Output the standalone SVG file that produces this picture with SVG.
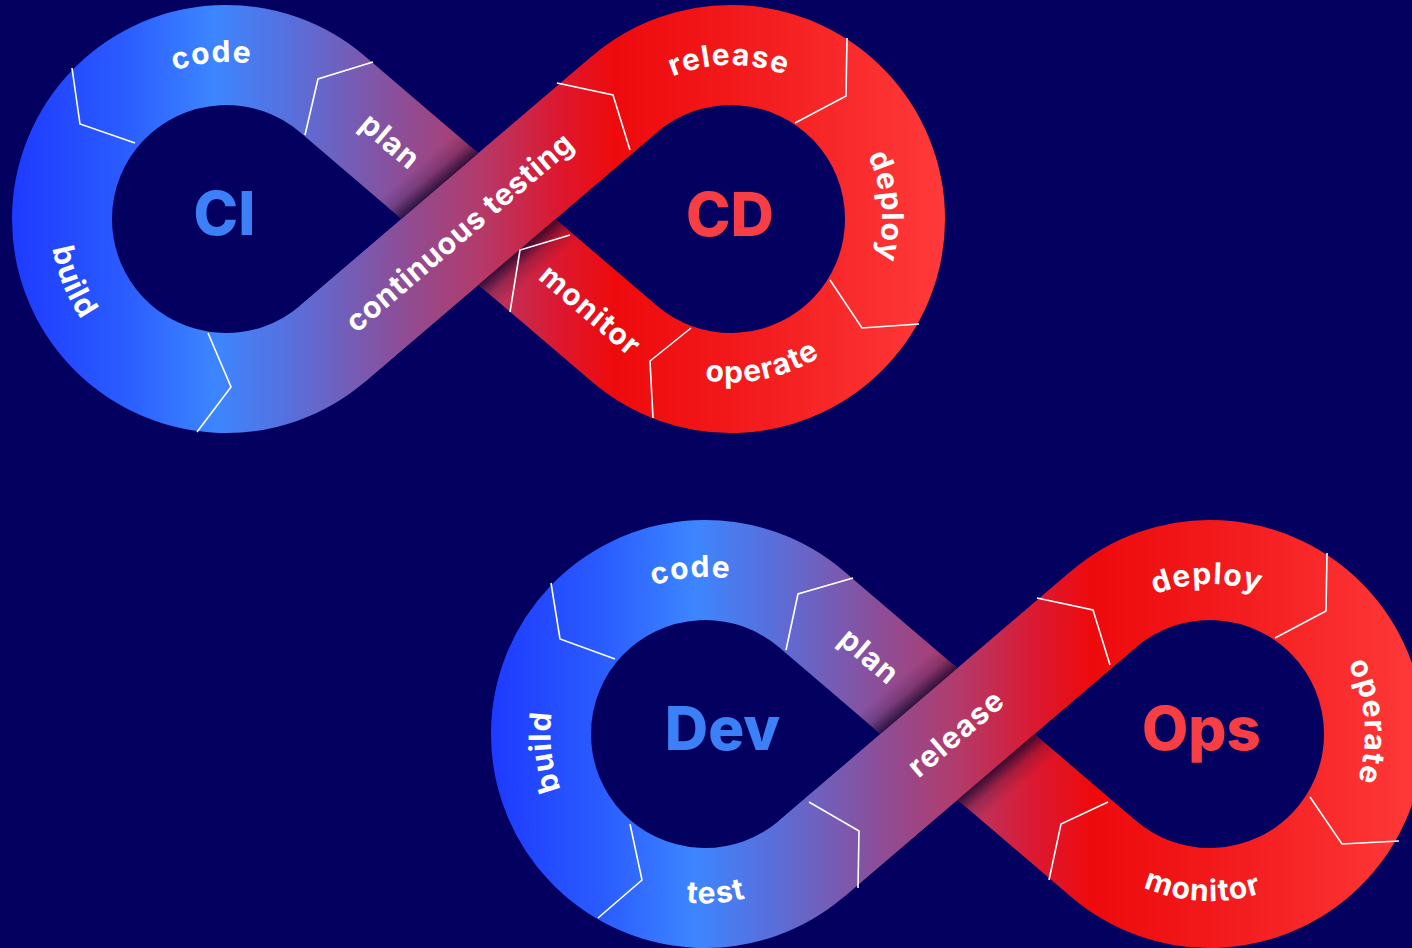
<svg xmlns="http://www.w3.org/2000/svg" width="1412" height="948" viewBox="0 0 1412 948">
<style>
.band{fill:none;stroke:url(#bandGrad);stroke-width:100;stroke-linejoin:round}
.div{fill:none;stroke:#ffffff;stroke-width:1.6;stroke-linejoin:miter}
.lbl{font-family:Inter,"Liberation Sans",sans-serif;font-weight:700;font-size:30px;fill:#ffffff;letter-spacing:1.2px;text-anchor:middle}
.big{font-family:Inter,"Liberation Sans",sans-serif;font-weight:800;font-size:60px;text-anchor:middle}
.blue{fill:#3b80f7}
.red{fill:#f63e44}
</style>
<defs>
<linearGradient id="bandGrad" gradientUnits="userSpaceOnUse" x1="12" y1="0" x2="945" y2="0">
<stop offset="0" stop-color="#1e3aff"/>
<stop offset="0.12" stop-color="#2a5cff"/>
<stop offset="0.218" stop-color="#3d86ff"/>
<stop offset="0.30" stop-color="#586fdc"/>
<stop offset="0.41" stop-color="#8a4f9b"/>
<stop offset="0.50" stop-color="#b23b6b"/>
<stop offset="0.585" stop-color="#dc1830"/>
<stop offset="0.645" stop-color="#ee0a0c"/>
<stop offset="0.80" stop-color="#f31c1e"/>
<stop offset="1" stop-color="#ff3a3a"/>
</linearGradient>
<linearGradient id="shade" gradientUnits="userSpaceOnUse" x1="426.6" y1="158.2" x2="530.4" y2="279.8">
<stop offset="0" stop-color="#0a0028" stop-opacity="0"/>
<stop offset="0.094" stop-color="#0a0028" stop-opacity="0.2"/>
<stop offset="0.1875" stop-color="#0a0028" stop-opacity="0.75"/>
<stop offset="0.8125" stop-color="#0a0028" stop-opacity="0.75"/>
<stop offset="0.906" stop-color="#0a0028" stop-opacity="0.2"/>
<stop offset="1" stop-color="#0a0028" stop-opacity="0"/>
</linearGradient>
<clipPath id="underClip"><polygon points="300.05,132.3 364.95,56.3 656.95,305.7 592.05,381.7"/></clipPath>
<path id="a-code" d="M83.7 152.7 A157 157 0 0 1 354.6 128.9"/>
<path id="a-build1" d="M86.6 111.6 A176 176 0 0 0 202.7 393.5"/>
<path id="a-release1" d="M596.7 143.6 A154 154 0 0 1 863.4 140.4"/>
<path id="a-deploy1" d="M794.5 82 A152 152 0 0 1 816.9 344.4"/>
<path id="a-operate1" d="M609.3 328.2 A164 164 0 0 0 887.1 269.4"/>
<path id="a-build2" d="M164.2 360.6 A154.5 154.5 0 0 1 134.3 94.6"/>
<path id="a-test2" d="M85.4 313.5 A169.4 169.4 0 0 0 378.1 293.5"/>
<path id="a-deploy2" d="M599.7 146.5 A150 150 0 0 1 859.4 141.5"/>
<path id="a-operate2" d="M797.7 79.1 A155 155 0 0 1 818.8 346.7"/>
<path id="a-monitor2" d="M582.7 295.9 A167 167 0 0 0 871.7 309"/>
</defs>
<rect width="1412" height="948" fill="#03005f"/>

<g id="ci-cd">
  <g id="ci-cd-band">
    <path class="band" d="M624.5 94.3 A164 164 0 1 1 624.5 343.7 L332.5 94.3 A164 164 0 1 0 332.5 343.7 Z"/>
    <polygon clip-path="url(#underClip)" fill="url(#shade)" points="644.4,182.45 416.4,377.15 312.6,255.55 540.6,60.85"/>
    <path class="band" d="M332.5 343.7 L624.5 94.3"/>
  </g>
  <g id="ci-cd-dividers">
    <polyline class="div" points="72,68 80,124 135,143"/>
    <polyline class="div" points="373,62 318,79 305,135"/>
    <polyline class="div" points="208,333 231,387 197,432"/>
    <polyline class="div" points="557,83 613,95 630,150"/>
    <polyline class="div" points="847,38 846,96 795,123"/>
    <polyline class="div" points="830,280 862,328 919,324"/>
    <polyline class="div" points="691,328 650,361 653,418"/>
    <polyline class="div" points="570,235 520,250 510,312"/>
  </g>
  <g id="ci-cd-labels">
    <text class="lbl"><textPath href="#a-code" startOffset="50%">code</textPath></text>
    <text class="lbl"><textPath href="#a-build1" startOffset="50%">build</textPath></text>
    <text class="lbl" transform="translate(389,143) rotate(40.5)" y="8">plan</text>
    <text class="lbl" transform="translate(461,234) rotate(-40.5)" y="8" style="letter-spacing:0.8px">continuous testing</text>
    <text class="lbl"><textPath href="#a-release1" startOffset="50%">release</textPath></text>
    <text class="lbl"><textPath href="#a-deploy1" startOffset="50%">deploy</textPath></text>
    <text class="lbl"><textPath href="#a-operate1" startOffset="50%">operate</textPath></text>
    <text class="lbl" transform="translate(589,312) rotate(40.5)" y="8">monitor</text>
  </g>
  <g id="ci-node"><text class="big blue" x="224.5" y="235">CI</text></g>
  <g id="cd-node"><text class="big red" x="730" y="236">CD</text></g>
</g>

<g id="dev-ops" transform="translate(479,515)">
  <g id="dev-ops-band">
    <path class="band" d="M624.5 94.3 A164 164 0 1 1 624.5 343.7 L332.5 94.3 A164 164 0 1 0 332.5 343.7 Z"/>
    <polygon clip-path="url(#underClip)" fill="url(#shade)" points="644.4,182.45 416.4,377.15 312.6,255.55 540.6,60.85"/>
    <path class="band" d="M332.5 343.7 L624.5 94.3"/>
  </g>
  <g id="dev-ops-dividers">
    <polyline class="div" points="72,68 81,124 136,144"/>
    <polyline class="div" points="374,63 319,79 307,135"/>
    <polyline class="div" points="151,309 163,365 119,403"/>
    <polyline class="div" points="330,287 380,316 379,373"/>
    <polyline class="div" points="558,83 614,95 631,150"/>
    <polyline class="div" points="848,38 847,96 796,123"/>
    <polyline class="div" points="831,282 863,329 920,326"/>
    <polyline class="div" points="629,287 582,309 570,365"/>
  </g>
  <g id="dev-ops-labels">
    <text class="lbl"><textPath href="#a-code" startOffset="50%">code</textPath></text>
    <text class="lbl" transform="translate(389,143) rotate(40.5)" y="8">plan</text>
    <text class="lbl"><textPath href="#a-build2" startOffset="50%">build</textPath></text>
    <text class="lbl"><textPath href="#a-test2" startOffset="50%">test</textPath></text>
    <text class="lbl" transform="translate(478.5,220) rotate(-40.5)" y="8">release</text>
    <text class="lbl"><textPath href="#a-deploy2" startOffset="50%">deploy</textPath></text>
    <text class="lbl"><textPath href="#a-operate2" startOffset="50%">operate</textPath></text>
    <text class="lbl"><textPath href="#a-monitor2" startOffset="50%">monitor</textPath></text>
  </g>
  <g id="dev-node"><text class="big blue" x="243.5" y="235">Dev</text></g>
  <g id="ops-node"><text class="big red" x="722.5" y="235">Ops</text></g>
</g>
</svg>
